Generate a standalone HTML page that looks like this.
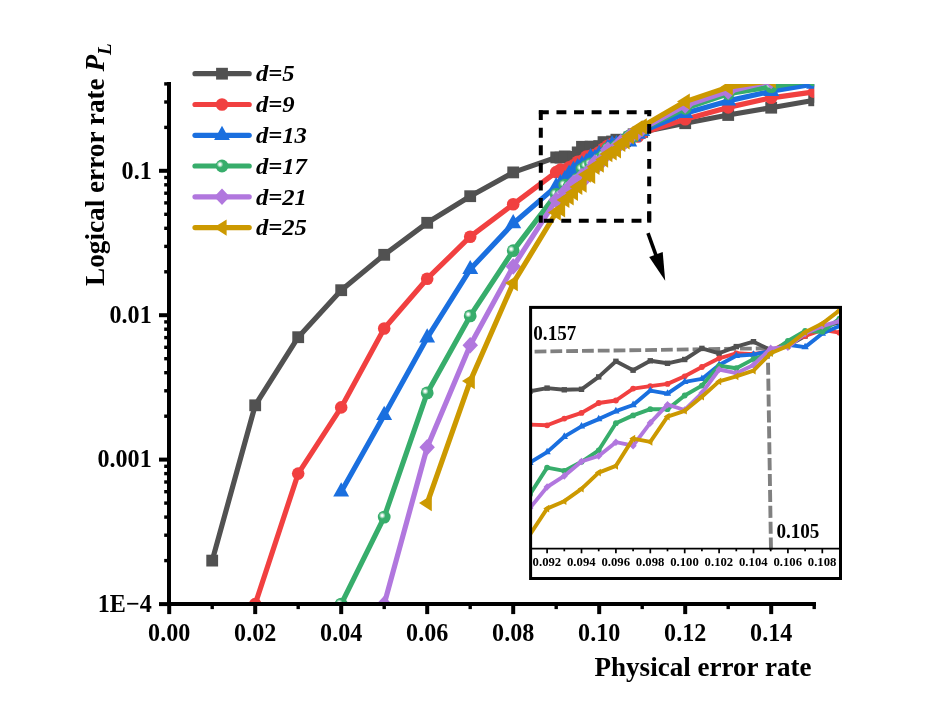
<!DOCTYPE html>
<html><head><meta charset="utf-8"><title>chart</title>
<style>html,body{margin:0;padding:0;background:#fff}svg{display:block;will-change:transform}text{font-family:"Liberation Serif",serif;font-weight:bold;fill:#000}</style></head><body>
<svg width="947" height="725" viewBox="0 0 947 725">
<defs>
<clipPath id="cm"><rect x="169.2" y="83.9" width="645.0" height="520.1"/></clipPath>
<clipPath id="ci"><rect x="530.6" y="307.4" width="309.9" height="243.5"/></clipPath>
<radialGradient id="sph" cx="0.345" cy="0.375" r="0.5" fx="0.345" fy="0.375"><stop offset="0" stop-color="#ffffff"/><stop offset="0.14" stop-color="#f6fcf9"/><stop offset="0.52" stop-color="#37AD6B"/><stop offset="1" stop-color="#37AD6B"/></radialGradient>
</defs>
<rect width="947" height="725" fill="#fff"/>
<g clip-path="url(#cm)">
<path d="M212.2,560.6 L255.2,405.3 L298.2,337.2 L341.2,290.2 L384.2,254.8 L427.2,222.8 L470.2,196.2 L513.2,172.4 L556.2,157.4 L560.5,157.6 L564.8,156.4 L569.1,157.0 L573.4,156.9 L577.7,152.4 L582.0,146.8 L586.3,150.0 L590.6,146.6 L594.9,147.5 L599.2,146.1 L603.5,142.1 L607.8,143.9 L612.1,141.5 L616.4,139.7 L620.7,142.7 L625.0,141.2 L629.3,137.6 L633.6,134.3 L637.9,132.7 L642.2,131.9 L685.2,123.2 L728.2,115.0 L771.2,107.7 L814.2,100.3" fill="none" stroke="#515151" stroke-width="5.2" stroke-linejoin="round" stroke-linecap="round"/>
<rect x="206.3" y="554.7" width="11.8" height="11.8" fill="#515151"/><rect x="249.3" y="399.4" width="11.8" height="11.8" fill="#515151"/><rect x="292.3" y="331.3" width="11.8" height="11.8" fill="#515151"/><rect x="335.3" y="284.3" width="11.8" height="11.8" fill="#515151"/><rect x="378.3" y="248.9" width="11.8" height="11.8" fill="#515151"/><rect x="421.3" y="216.9" width="11.8" height="11.8" fill="#515151"/><rect x="464.3" y="190.3" width="11.8" height="11.8" fill="#515151"/><rect x="507.3" y="166.5" width="11.8" height="11.8" fill="#515151"/><rect x="550.3" y="151.5" width="11.8" height="11.8" fill="#515151"/><rect x="554.6" y="151.7" width="11.8" height="11.8" fill="#515151"/><rect x="558.9" y="150.5" width="11.8" height="11.8" fill="#515151"/><rect x="563.2" y="151.1" width="11.8" height="11.8" fill="#515151"/><rect x="567.5" y="151.0" width="11.8" height="11.8" fill="#515151"/><rect x="571.8" y="146.5" width="11.8" height="11.8" fill="#515151"/><rect x="576.1" y="140.9" width="11.8" height="11.8" fill="#515151"/><rect x="580.4" y="144.1" width="11.8" height="11.8" fill="#515151"/><rect x="584.7" y="140.7" width="11.8" height="11.8" fill="#515151"/><rect x="589.0" y="141.6" width="11.8" height="11.8" fill="#515151"/><rect x="593.3" y="140.2" width="11.8" height="11.8" fill="#515151"/><rect x="597.6" y="136.2" width="11.8" height="11.8" fill="#515151"/><rect x="601.9" y="138.0" width="11.8" height="11.8" fill="#515151"/><rect x="606.2" y="135.6" width="11.8" height="11.8" fill="#515151"/><rect x="610.5" y="133.8" width="11.8" height="11.8" fill="#515151"/><rect x="614.8" y="136.8" width="11.8" height="11.8" fill="#515151"/><rect x="619.1" y="135.3" width="11.8" height="11.8" fill="#515151"/><rect x="623.4" y="131.7" width="11.8" height="11.8" fill="#515151"/><rect x="627.7" y="128.4" width="11.8" height="11.8" fill="#515151"/><rect x="632.0" y="126.8" width="11.8" height="11.8" fill="#515151"/><rect x="636.3" y="126.0" width="11.8" height="11.8" fill="#515151"/><rect x="679.3" y="117.3" width="11.8" height="11.8" fill="#515151"/><rect x="722.3" y="109.1" width="11.8" height="11.8" fill="#515151"/><rect x="765.3" y="101.8" width="11.8" height="11.8" fill="#515151"/><rect x="808.3" y="94.4" width="11.8" height="11.8" fill="#515151"/>
<path d="M255.2,604.1 L298.2,473.6 L341.2,407.4 L384.2,328.5 L427.2,278.7 L470.2,236.7 L513.2,204.3 L556.2,172.1 L560.5,169.6 L564.8,169.8 L569.1,167.4 L573.4,165.4 L577.7,161.8 L582.0,160.9 L586.3,156.6 L590.6,155.7 L594.9,154.9 L599.2,152.2 L603.5,148.8 L607.8,145.7 L612.1,143.9 L616.4,144.2 L620.7,143.0 L625.0,139.9 L629.3,137.6 L633.6,135.4 L637.9,136.5 L642.2,133.0 L685.2,119.3 L728.2,107.4 L771.2,97.8 L814.2,91.8" fill="none" stroke="#F14040" stroke-width="5.2" stroke-linejoin="round" stroke-linecap="round"/>
<circle cx="255.2" cy="604.1" r="6.3" fill="#F14040"/><circle cx="298.2" cy="473.6" r="6.3" fill="#F14040"/><circle cx="341.2" cy="407.4" r="6.3" fill="#F14040"/><circle cx="384.2" cy="328.5" r="6.3" fill="#F14040"/><circle cx="427.2" cy="278.7" r="6.3" fill="#F14040"/><circle cx="470.2" cy="236.7" r="6.3" fill="#F14040"/><circle cx="513.2" cy="204.3" r="6.3" fill="#F14040"/><circle cx="556.2" cy="172.1" r="6.3" fill="#F14040"/><circle cx="560.5" cy="169.6" r="6.3" fill="#F14040"/><circle cx="564.8" cy="169.8" r="6.3" fill="#F14040"/><circle cx="569.1" cy="167.4" r="6.3" fill="#F14040"/><circle cx="573.4" cy="165.4" r="6.3" fill="#F14040"/><circle cx="577.7" cy="161.8" r="6.3" fill="#F14040"/><circle cx="582.0" cy="160.9" r="6.3" fill="#F14040"/><circle cx="586.3" cy="156.6" r="6.3" fill="#F14040"/><circle cx="590.6" cy="155.7" r="6.3" fill="#F14040"/><circle cx="594.9" cy="154.9" r="6.3" fill="#F14040"/><circle cx="599.2" cy="152.2" r="6.3" fill="#F14040"/><circle cx="603.5" cy="148.8" r="6.3" fill="#F14040"/><circle cx="607.8" cy="145.7" r="6.3" fill="#F14040"/><circle cx="612.1" cy="143.9" r="6.3" fill="#F14040"/><circle cx="616.4" cy="144.2" r="6.3" fill="#F14040"/><circle cx="620.7" cy="143.0" r="6.3" fill="#F14040"/><circle cx="625.0" cy="139.9" r="6.3" fill="#F14040"/><circle cx="629.3" cy="137.6" r="6.3" fill="#F14040"/><circle cx="633.6" cy="135.4" r="6.3" fill="#F14040"/><circle cx="637.9" cy="136.5" r="6.3" fill="#F14040"/><circle cx="642.2" cy="133.0" r="6.3" fill="#F14040"/><circle cx="685.2" cy="119.3" r="6.3" fill="#F14040"/><circle cx="728.2" cy="107.4" r="6.3" fill="#F14040"/><circle cx="771.2" cy="97.8" r="6.3" fill="#F14040"/><circle cx="814.2" cy="91.8" r="6.3" fill="#F14040"/>
<path d="M341.2,491.7 L384.2,415.2 L427.2,337.8 L470.2,269.3 L513.2,223.5 L556.2,186.4 L560.5,183.3 L564.8,179.5 L569.1,173.9 L573.4,170.2 L577.7,167.6 L582.0,164.8 L586.3,162.5 L590.6,157.3 L594.9,158.4 L599.2,154.2 L603.5,153.1 L607.8,148.1 L612.1,144.8 L616.4,144.4 L620.7,143.0 L625.0,140.8 L629.3,141.7 L633.6,136.7 L637.9,134.0 L642.2,131.3 L685.2,113.2 L728.2,100.9 L771.2,91.3 L814.2,84.0" fill="none" stroke="#1A6FDF" stroke-width="5.2" stroke-linejoin="round" stroke-linecap="round"/>
<polygon points="341.2,482.2 349.1,496.4 333.2,496.4" fill="#1A6FDF"/><polygon points="384.2,405.8 392.1,420.0 376.2,420.0" fill="#1A6FDF"/><polygon points="427.2,328.3 435.1,342.5 419.2,342.5" fill="#1A6FDF"/><polygon points="470.2,259.9 478.2,274.1 462.3,274.1" fill="#1A6FDF"/><polygon points="513.2,214.0 521.2,228.2 505.3,228.2" fill="#1A6FDF"/><polygon points="556.2,177.0 564.2,191.2 548.2,191.2" fill="#1A6FDF"/><polygon points="560.5,173.9 568.5,188.1 552.5,188.1" fill="#1A6FDF"/><polygon points="564.8,170.0 572.8,184.2 556.8,184.2" fill="#1A6FDF"/><polygon points="569.1,164.5 577.0,178.7 561.1,178.7" fill="#1A6FDF"/><polygon points="573.4,160.8 581.4,175.0 565.4,175.0" fill="#1A6FDF"/><polygon points="577.7,158.1 585.7,172.3 569.8,172.3" fill="#1A6FDF"/><polygon points="582.0,155.3 590.0,169.5 574.0,169.5" fill="#1A6FDF"/><polygon points="586.3,153.1 594.2,167.3 578.3,167.3" fill="#1A6FDF"/><polygon points="590.6,147.9 598.6,162.1 582.6,162.1" fill="#1A6FDF"/><polygon points="594.9,148.9 602.9,163.1 587.0,163.1" fill="#1A6FDF"/><polygon points="599.2,144.7 607.2,158.9 591.2,158.9" fill="#1A6FDF"/><polygon points="603.5,143.6 611.5,157.8 595.5,157.8" fill="#1A6FDF"/><polygon points="607.8,138.6 615.8,152.8 599.8,152.8" fill="#1A6FDF"/><polygon points="612.1,135.3 620.0,149.5 604.1,149.5" fill="#1A6FDF"/><polygon points="616.4,134.9 624.4,149.1 608.4,149.1" fill="#1A6FDF"/><polygon points="620.7,133.6 628.7,147.8 612.8,147.8" fill="#1A6FDF"/><polygon points="625.0,131.3 633.0,145.5 617.0,145.5" fill="#1A6FDF"/><polygon points="629.3,132.2 637.2,146.4 621.3,146.4" fill="#1A6FDF"/><polygon points="633.6,127.3 641.5,141.5 625.6,141.5" fill="#1A6FDF"/><polygon points="637.9,124.6 645.9,138.8 629.9,138.8" fill="#1A6FDF"/><polygon points="642.2,121.8 650.2,136.0 634.2,136.0" fill="#1A6FDF"/><polygon points="685.2,103.7 693.2,117.9 677.2,117.9" fill="#1A6FDF"/><polygon points="728.2,91.4 736.2,105.6 720.2,105.6" fill="#1A6FDF"/><polygon points="771.2,81.8 779.2,96.0 763.2,96.0" fill="#1A6FDF"/><polygon points="814.2,74.5 822.2,88.7 806.2,88.7" fill="#1A6FDF"/>
<path d="M341.2,604.1 L384.2,517.1 L427.2,392.9 L470.2,315.9 L513.2,250.7 L556.2,194.3 L560.5,194.8 L564.8,185.1 L569.1,186.3 L573.4,183.0 L577.7,178.8 L582.0,169.1 L586.3,166.3 L590.6,164.0 L594.9,164.0 L599.2,159.1 L603.5,155.5 L607.8,148.4 L612.1,149.3 L616.4,146.0 L620.7,143.9 L625.0,139.4 L629.3,135.8 L633.6,136.1 L637.9,131.4 L642.2,129.0 L685.2,108.3 L728.2,93.8 L771.2,86.6 L814.2,79.9" fill="none" stroke="#37AD6B" stroke-width="5.2" stroke-linejoin="round" stroke-linecap="round"/>
<circle cx="341.2" cy="604.1" r="6.4" fill="url(#sph)"/><circle cx="384.2" cy="517.1" r="6.4" fill="url(#sph)"/><circle cx="427.2" cy="392.9" r="6.4" fill="url(#sph)"/><circle cx="470.2" cy="315.9" r="6.4" fill="url(#sph)"/><circle cx="513.2" cy="250.7" r="6.4" fill="url(#sph)"/><circle cx="556.2" cy="194.3" r="6.4" fill="url(#sph)"/><circle cx="560.5" cy="194.8" r="6.4" fill="url(#sph)"/><circle cx="564.8" cy="185.1" r="6.4" fill="url(#sph)"/><circle cx="569.1" cy="186.3" r="6.4" fill="url(#sph)"/><circle cx="573.4" cy="183.0" r="6.4" fill="url(#sph)"/><circle cx="577.7" cy="178.8" r="6.4" fill="url(#sph)"/><circle cx="582.0" cy="169.1" r="6.4" fill="url(#sph)"/><circle cx="586.3" cy="166.3" r="6.4" fill="url(#sph)"/><circle cx="590.6" cy="164.0" r="6.4" fill="url(#sph)"/><circle cx="594.9" cy="164.0" r="6.4" fill="url(#sph)"/><circle cx="599.2" cy="159.1" r="6.4" fill="url(#sph)"/><circle cx="603.5" cy="155.5" r="6.4" fill="url(#sph)"/><circle cx="607.8" cy="148.4" r="6.4" fill="url(#sph)"/><circle cx="612.1" cy="149.3" r="6.4" fill="url(#sph)"/><circle cx="616.4" cy="146.0" r="6.4" fill="url(#sph)"/><circle cx="620.7" cy="143.9" r="6.4" fill="url(#sph)"/><circle cx="625.0" cy="139.4" r="6.4" fill="url(#sph)"/><circle cx="629.3" cy="135.8" r="6.4" fill="url(#sph)"/><circle cx="633.6" cy="136.1" r="6.4" fill="url(#sph)"/><circle cx="637.9" cy="131.4" r="6.4" fill="url(#sph)"/><circle cx="642.2" cy="129.0" r="6.4" fill="url(#sph)"/><circle cx="685.2" cy="108.3" r="6.4" fill="url(#sph)"/><circle cx="728.2" cy="93.8" r="6.4" fill="url(#sph)"/><circle cx="771.2" cy="86.6" r="6.4" fill="url(#sph)"/><circle cx="814.2" cy="79.9" r="6.4" fill="url(#sph)"/>
<path d="M384.2,604.1 L427.2,447.2 L470.2,345.2 L513.2,266.5 L556.2,199.9 L560.5,199.7 L564.8,192.1 L569.1,188.1 L573.4,182.9 L577.7,180.9 L582.0,175.9 L586.3,177.2 L590.6,169.0 L594.9,162.4 L599.2,164.3 L603.5,158.2 L607.8,149.7 L612.1,151.1 L616.4,148.1 L620.7,142.1 L625.0,141.7 L629.3,136.7 L633.6,134.0 L637.9,132.3 L642.2,128.6 L685.2,105.5 L728.2,91.4 L771.2,81.0 L814.2,76.0" fill="none" stroke="#B177DE" stroke-width="5.2" stroke-linejoin="round" stroke-linecap="round"/>
<polygon points="384.2,595.8 391.9,604.1 384.2,612.3 376.4,604.1" fill="#B177DE"/><polygon points="427.2,439.0 434.9,447.2 427.2,455.5 419.4,447.2" fill="#B177DE"/><polygon points="470.2,337.0 478.0,345.2 470.2,353.5 462.5,345.2" fill="#B177DE"/><polygon points="513.2,258.3 521.0,266.5 513.2,274.8 505.5,266.5" fill="#B177DE"/><polygon points="556.2,191.7 564.0,199.9 556.2,208.2 548.5,199.9" fill="#B177DE"/><polygon points="560.5,191.4 568.2,199.7 560.5,207.9 552.8,199.7" fill="#B177DE"/><polygon points="564.8,183.8 572.5,192.1 564.8,200.3 557.0,192.1" fill="#B177DE"/><polygon points="569.1,179.8 576.8,188.1 569.1,196.3 561.3,188.1" fill="#B177DE"/><polygon points="573.4,174.6 581.1,182.9 573.4,191.1 565.6,182.9" fill="#B177DE"/><polygon points="577.7,172.7 585.5,180.9 577.7,189.2 570.0,180.9" fill="#B177DE"/><polygon points="582.0,167.7 589.8,175.9 582.0,184.2 574.2,175.9" fill="#B177DE"/><polygon points="586.3,168.9 594.0,177.2 586.3,185.4 578.5,177.2" fill="#B177DE"/><polygon points="590.6,160.7 598.4,169.0 590.6,177.2 582.9,169.0" fill="#B177DE"/><polygon points="594.9,154.2 602.7,162.4 594.9,170.7 587.2,162.4" fill="#B177DE"/><polygon points="599.2,156.1 607.0,164.3 599.2,172.6 591.5,164.3" fill="#B177DE"/><polygon points="603.5,150.0 611.2,158.2 603.5,166.5 595.8,158.2" fill="#B177DE"/><polygon points="607.8,141.5 615.5,149.7 607.8,158.0 600.0,149.7" fill="#B177DE"/><polygon points="612.1,142.8 619.8,151.1 612.1,159.3 604.3,151.1" fill="#B177DE"/><polygon points="616.4,139.9 624.1,148.1 616.4,156.4 608.6,148.1" fill="#B177DE"/><polygon points="620.7,133.9 628.5,142.1 620.7,150.4 613.0,142.1" fill="#B177DE"/><polygon points="625.0,133.4 632.8,141.7 625.0,149.9 617.2,141.7" fill="#B177DE"/><polygon points="629.3,128.5 637.0,136.7 629.3,145.0 621.5,136.7" fill="#B177DE"/><polygon points="633.6,125.8 641.3,134.0 633.6,142.3 625.8,134.0" fill="#B177DE"/><polygon points="637.9,124.0 645.6,132.3 637.9,140.5 630.1,132.3" fill="#B177DE"/><polygon points="642.2,120.4 650.0,128.6 642.2,136.9 634.5,128.6" fill="#B177DE"/><polygon points="685.2,97.2 693.0,105.5 685.2,113.8 677.5,105.5" fill="#B177DE"/><polygon points="728.2,83.2 736.0,91.4 728.2,99.7 720.5,91.4" fill="#B177DE"/><polygon points="771.2,72.8 779.0,81.0 771.2,89.2 763.5,81.0" fill="#B177DE"/><polygon points="814.2,67.8 822.0,76.0 814.2,84.2 806.5,76.0" fill="#B177DE"/>
<path d="M427.2,503.1 L470.2,381.1 L513.2,283.1 L556.2,212.5 L560.5,209.3 L564.8,199.9 L569.1,197.2 L573.4,192.7 L577.7,186.9 L582.0,184.5 L586.3,174.6 L590.6,175.8 L594.9,166.7 L599.2,164.6 L603.5,159.6 L607.8,154.0 L612.1,152.2 L616.4,150.2 L620.7,143.9 L625.0,141.2 L629.3,136.3 L633.6,133.2 L637.9,128.4 L642.2,126.4 L685.2,101.6 L728.2,87.2 L771.2,80.4 L814.2,75.0" fill="none" stroke="#CC9900" stroke-width="5.2" stroke-linejoin="round" stroke-linecap="round"/>
<polygon points="419.0,503.1 431.8,494.9 431.8,511.3" fill="#CC9900"/><polygon points="462.0,381.1 474.8,372.9 474.8,389.3" fill="#CC9900"/><polygon points="505.0,283.1 517.8,274.9 517.8,291.3" fill="#CC9900"/><polygon points="548.0,212.5 560.8,204.3 560.8,220.7" fill="#CC9900"/><polygon points="552.3,209.3 565.1,201.1 565.1,217.5" fill="#CC9900"/><polygon points="556.6,199.9 569.4,191.7 569.4,208.1" fill="#CC9900"/><polygon points="560.9,197.2 573.7,189.0 573.7,205.4" fill="#CC9900"/><polygon points="565.2,192.7 578.0,184.5 578.0,200.9" fill="#CC9900"/><polygon points="569.5,186.9 582.3,178.7 582.3,195.1" fill="#CC9900"/><polygon points="573.8,184.5 586.6,176.3 586.6,192.7" fill="#CC9900"/><polygon points="578.1,174.6 590.9,166.4 590.9,182.8" fill="#CC9900"/><polygon points="582.4,175.8 595.2,167.6 595.2,184.0" fill="#CC9900"/><polygon points="586.7,166.7 599.5,158.5 599.5,174.9" fill="#CC9900"/><polygon points="591.0,164.6 603.8,156.4 603.8,172.8" fill="#CC9900"/><polygon points="595.3,159.6 608.1,151.4 608.1,167.8" fill="#CC9900"/><polygon points="599.6,154.0 612.4,145.8 612.4,162.2" fill="#CC9900"/><polygon points="603.9,152.2 616.7,144.0 616.7,160.4" fill="#CC9900"/><polygon points="608.2,150.2 621.0,142.0 621.0,158.4" fill="#CC9900"/><polygon points="612.5,143.9 625.3,135.7 625.3,152.1" fill="#CC9900"/><polygon points="616.8,141.2 629.6,133.0 629.6,149.4" fill="#CC9900"/><polygon points="621.1,136.3 633.9,128.1 633.9,144.5" fill="#CC9900"/><polygon points="625.4,133.2 638.2,125.0 638.2,141.4" fill="#CC9900"/><polygon points="629.7,128.4 642.5,120.2 642.5,136.6" fill="#CC9900"/><polygon points="634.0,126.4 646.8,118.2 646.8,134.6" fill="#CC9900"/><polygon points="677.0,101.6 689.8,93.4 689.8,109.8" fill="#CC9900"/><polygon points="720.0,87.2 732.8,79.0 732.8,95.4" fill="#CC9900"/><polygon points="763.0,80.4 775.8,72.2 775.8,88.6" fill="#CC9900"/><polygon points="806.0,75.0 818.8,66.8 818.8,83.2" fill="#CC9900"/>
</g>
<g stroke="#000" stroke-width="4.0" fill="none">
<line x1="169" y1="82.1" x2="169" y2="606.1"/>
<line x1="167.0" y1="604.1" x2="816.0" y2="604.1"/>
</g>
<g stroke="#000" stroke-width="3.4">
<line x1="169.2" y1="604.1" x2="169.2" y2="614.1" stroke-width="4.0"/>
<line x1="212.2" y1="604.1" x2="212.2" y2="609.1" stroke-width="3.4"/>
<line x1="255.2" y1="604.1" x2="255.2" y2="614.1" stroke-width="4.0"/>
<line x1="298.2" y1="604.1" x2="298.2" y2="609.1" stroke-width="3.4"/>
<line x1="341.2" y1="604.1" x2="341.2" y2="614.1" stroke-width="4.0"/>
<line x1="384.2" y1="604.1" x2="384.2" y2="609.1" stroke-width="3.4"/>
<line x1="427.2" y1="604.1" x2="427.2" y2="614.1" stroke-width="4.0"/>
<line x1="470.2" y1="604.1" x2="470.2" y2="609.1" stroke-width="3.4"/>
<line x1="513.2" y1="604.1" x2="513.2" y2="614.1" stroke-width="4.0"/>
<line x1="556.2" y1="604.1" x2="556.2" y2="609.1" stroke-width="3.4"/>
<line x1="599.2" y1="604.1" x2="599.2" y2="614.1" stroke-width="4.0"/>
<line x1="642.2" y1="604.1" x2="642.2" y2="609.1" stroke-width="3.4"/>
<line x1="685.2" y1="604.1" x2="685.2" y2="614.1" stroke-width="4.0"/>
<line x1="728.2" y1="604.1" x2="728.2" y2="609.1" stroke-width="3.4"/>
<line x1="771.2" y1="604.1" x2="771.2" y2="614.1" stroke-width="4.0"/>
<line x1="814.2" y1="604.1" x2="814.2" y2="609.1" stroke-width="3.4"/>
<line x1="169" y1="604.1" x2="159.0" y2="604.1" stroke-width="4.0"/>
<line x1="169" y1="560.6" x2="164.2" y2="560.6" stroke-width="3.4"/>
<line x1="169" y1="535.2" x2="164.2" y2="535.2" stroke-width="3.4"/>
<line x1="169" y1="517.1" x2="164.2" y2="517.1" stroke-width="3.4"/>
<line x1="169" y1="503.1" x2="164.2" y2="503.1" stroke-width="3.4"/>
<line x1="169" y1="491.7" x2="164.2" y2="491.7" stroke-width="3.4"/>
<line x1="169" y1="482.0" x2="164.2" y2="482.0" stroke-width="3.4"/>
<line x1="169" y1="473.6" x2="164.2" y2="473.6" stroke-width="3.4"/>
<line x1="169" y1="466.3" x2="164.2" y2="466.3" stroke-width="3.4"/>
<line x1="169" y1="459.6" x2="159.0" y2="459.6" stroke-width="4.0"/>
<line x1="169" y1="416.2" x2="164.2" y2="416.2" stroke-width="3.4"/>
<line x1="169" y1="390.8" x2="164.2" y2="390.8" stroke-width="3.4"/>
<line x1="169" y1="372.7" x2="164.2" y2="372.7" stroke-width="3.4"/>
<line x1="169" y1="358.7" x2="164.2" y2="358.7" stroke-width="3.4"/>
<line x1="169" y1="347.3" x2="164.2" y2="347.3" stroke-width="3.4"/>
<line x1="169" y1="337.6" x2="164.2" y2="337.6" stroke-width="3.4"/>
<line x1="169" y1="329.2" x2="164.2" y2="329.2" stroke-width="3.4"/>
<line x1="169" y1="321.9" x2="164.2" y2="321.9" stroke-width="3.4"/>
<line x1="169" y1="315.2" x2="159.0" y2="315.2" stroke-width="4.0"/>
<line x1="169" y1="271.8" x2="164.2" y2="271.8" stroke-width="3.4"/>
<line x1="169" y1="246.4" x2="164.2" y2="246.4" stroke-width="3.4"/>
<line x1="169" y1="228.3" x2="164.2" y2="228.3" stroke-width="3.4"/>
<line x1="169" y1="214.3" x2="164.2" y2="214.3" stroke-width="3.4"/>
<line x1="169" y1="202.9" x2="164.2" y2="202.9" stroke-width="3.4"/>
<line x1="169" y1="193.2" x2="164.2" y2="193.2" stroke-width="3.4"/>
<line x1="169" y1="184.8" x2="164.2" y2="184.8" stroke-width="3.4"/>
<line x1="169" y1="177.5" x2="164.2" y2="177.5" stroke-width="3.4"/>
<line x1="169" y1="170.8" x2="159.0" y2="170.8" stroke-width="4.0"/>
<line x1="169" y1="127.4" x2="164.2" y2="127.4" stroke-width="3.4"/>
<line x1="169" y1="102.0" x2="164.2" y2="102.0" stroke-width="3.4"/>
<line x1="169" y1="83.9" x2="164.2" y2="83.9" stroke-width="3.4"/>
</g>
<text transform="translate(169.2,640.6) scale(0.945,1)" font-size="25.5" text-anchor="middle">0.00</text>
<text transform="translate(255.2,640.6) scale(0.945,1)" font-size="25.5" text-anchor="middle">0.02</text>
<text transform="translate(341.2,640.6) scale(0.945,1)" font-size="25.5" text-anchor="middle">0.04</text>
<text transform="translate(427.2,640.6) scale(0.945,1)" font-size="25.5" text-anchor="middle">0.06</text>
<text transform="translate(513.2,640.6) scale(0.945,1)" font-size="25.5" text-anchor="middle">0.08</text>
<text transform="translate(599.2,640.6) scale(0.945,1)" font-size="25.5" text-anchor="middle">0.10</text>
<text transform="translate(685.2,640.6) scale(0.945,1)" font-size="25.5" text-anchor="middle">0.12</text>
<text transform="translate(771.2,640.6) scale(0.945,1)" font-size="25.5" text-anchor="middle">0.14</text>
<text transform="translate(151.7,178.7) scale(0.945,1)" font-size="25.5" text-anchor="end">0.1</text>
<text transform="translate(151.7,323.1) scale(0.945,1)" font-size="25.5" text-anchor="end">0.01</text>
<text transform="translate(151.7,467.4) scale(0.945,1)" font-size="25.5" text-anchor="end">0.001</text>
<text transform="translate(151.7,611.9) scale(0.945,1)" font-size="25.5" text-anchor="end">1E−4</text>
<text transform="translate(703.0,675.9) scale(0.985,1)" font-size="27.5" text-anchor="middle">Physical error rate</text>
<text transform="translate(104.2,286.0) rotate(-90) scale(1.0244,1)" font-size="26.6" text-anchor="start">Logical error rate <tspan font-style="italic">P</tspan><tspan font-style="italic" font-size="18.5" dy="7">L</tspan></text>
<line x1="195" y1="73.7" x2="249.2" y2="73.7" stroke="#515151" stroke-width="5.2" stroke-linecap="round"/>
<rect x="216.1" y="67.8" width="11.8" height="11.8" fill="#515151"/>
<text transform="translate(255.9,81.4) scale(1.04,1)" font-size="23.7" text-anchor="start" font-style="italic">d=5</text>
<line x1="195" y1="104.5" x2="249.2" y2="104.5" stroke="#F14040" stroke-width="5.2" stroke-linecap="round"/>
<circle cx="222.0" cy="104.5" r="6.3" fill="#F14040"/>
<text transform="translate(255.9,112.2) scale(1.04,1)" font-size="23.7" text-anchor="start" font-style="italic">d=9</text>
<line x1="195" y1="135.3" x2="249.2" y2="135.3" stroke="#1A6FDF" stroke-width="5.2" stroke-linecap="round"/>
<polygon points="222.0,125.8 229.9,140.0 214.1,140.0" fill="#1A6FDF"/>
<text transform="translate(255.9,143.0) scale(1.04,1)" font-size="23.7" text-anchor="start" font-style="italic">d=13</text>
<line x1="195" y1="166.0" x2="249.2" y2="166.0" stroke="#37AD6B" stroke-width="5.2" stroke-linecap="round"/>
<circle cx="222.0" cy="166.0" r="6.4" fill="url(#sph)"/>
<text transform="translate(255.9,173.7) scale(1.04,1)" font-size="23.7" text-anchor="start" font-style="italic">d=17</text>
<line x1="195" y1="196.8" x2="249.2" y2="196.8" stroke="#B177DE" stroke-width="5.2" stroke-linecap="round"/>
<polygon points="222.0,188.6 229.8,196.8 222.0,205.1 214.2,196.8" fill="#B177DE"/>
<text transform="translate(255.9,204.5) scale(1.04,1)" font-size="23.7" text-anchor="start" font-style="italic">d=21</text>
<line x1="195" y1="227.6" x2="249.2" y2="227.6" stroke="#CC9900" stroke-width="5.2" stroke-linecap="round"/>
<polygon points="213.8,227.6 226.6,219.4 226.6,235.8" fill="#CC9900"/>
<text transform="translate(255.9,235.3) scale(1.04,1)" font-size="23.7" text-anchor="start" font-style="italic">d=25</text>
<g stroke="#000" stroke-width="4" fill="none" stroke-dasharray="9.9 7.67">
<line x1="538.9" y1="112.2" x2="651.2" y2="112.2"/>
<line x1="540.8" y1="110.2" x2="540.8" y2="222.7"/>
<line x1="649.2" y1="110.2" x2="649.2" y2="222.7" stroke-dasharray="9.9 7.6" stroke-dashoffset="3.8"/>
<line x1="543.7" y1="220.7" x2="647" y2="220.7"/>
<line x1="649.2" y1="211.4" x2="649.2" y2="222.7" stroke-dasharray="none"/>
</g>
<line x1="648.0" y1="233.2" x2="657.5" y2="259.5" stroke="#000" stroke-width="3.6"/>
<polygon points="665.2,280.8 649.2,256.9 662.7,252.1" fill="#000"/>
<rect x="530.6" y="307.4" width="309.9" height="271.1" fill="#fff" stroke="none"/>
<g clip-path="url(#ci)">
<path d="M534.6,351.6 L768.5,348.3" stroke="#808080" stroke-width="3.8" fill="none" stroke-dasharray="11.8 4.0"/>
<path d="M767.8,346.8 L771.0,550.9" stroke="#808080" stroke-width="3.9" fill="none" stroke-dasharray="12.1 3.8"/>
<path d="M529.9,391.3 L547.1,388.1 L564.3,389.8 L581.5,389.3 L598.7,376.9 L615.9,361.3 L633.1,370.2 L650.3,360.8 L667.5,363.3 L684.7,359.5 L701.9,348.4 L719.1,353.3 L736.3,346.6 L753.5,341.7 L770.7,350.1 L787.9,345.9 L805.1,336.0 L822.3,326.8 L839.5,322.3" fill="none" stroke="#515151" stroke-width="3.9" stroke-linejoin="round"/>
<rect x="527.2" y="388.6" width="5.4" height="5.4" fill="#515151"/><rect x="544.4" y="385.4" width="5.4" height="5.4" fill="#515151"/><rect x="561.6" y="387.1" width="5.4" height="5.4" fill="#515151"/><rect x="578.8" y="386.6" width="5.4" height="5.4" fill="#515151"/><rect x="596.0" y="374.2" width="5.4" height="5.4" fill="#515151"/><rect x="613.2" y="358.6" width="5.4" height="5.4" fill="#515151"/><rect x="630.4" y="367.5" width="5.4" height="5.4" fill="#515151"/><rect x="647.6" y="358.1" width="5.4" height="5.4" fill="#515151"/><rect x="664.8" y="360.6" width="5.4" height="5.4" fill="#515151"/><rect x="682.0" y="356.8" width="5.4" height="5.4" fill="#515151"/><rect x="699.2" y="345.7" width="5.4" height="5.4" fill="#515151"/><rect x="716.4" y="350.6" width="5.4" height="5.4" fill="#515151"/><rect x="733.6" y="343.9" width="5.4" height="5.4" fill="#515151"/><rect x="750.8" y="339.0" width="5.4" height="5.4" fill="#515151"/><rect x="768.0" y="347.4" width="5.4" height="5.4" fill="#515151"/><rect x="785.2" y="343.2" width="5.4" height="5.4" fill="#515151"/><rect x="802.4" y="333.3" width="5.4" height="5.4" fill="#515151"/><rect x="819.6" y="324.1" width="5.4" height="5.4" fill="#515151"/><rect x="836.8" y="319.6" width="5.4" height="5.4" fill="#515151"/>
<path d="M529.9,424.6 L547.1,425.3 L564.3,418.6 L581.5,412.9 L598.7,403.0 L615.9,400.5 L633.1,388.6 L650.3,386.1 L667.5,383.9 L684.7,376.3 L701.9,367.0 L719.1,358.3 L736.3,353.3 L753.5,354.1 L770.7,350.9 L787.9,342.2 L805.1,336.0 L822.3,329.8 L839.5,332.7" fill="none" stroke="#F14040" stroke-width="3.9" stroke-linejoin="round"/>
<circle cx="529.9" cy="424.6" r="2.9" fill="#F14040"/><circle cx="547.1" cy="425.3" r="2.9" fill="#F14040"/><circle cx="564.3" cy="418.6" r="2.9" fill="#F14040"/><circle cx="581.5" cy="412.9" r="2.9" fill="#F14040"/><circle cx="598.7" cy="403.0" r="2.9" fill="#F14040"/><circle cx="615.9" cy="400.5" r="2.9" fill="#F14040"/><circle cx="633.1" cy="388.6" r="2.9" fill="#F14040"/><circle cx="650.3" cy="386.1" r="2.9" fill="#F14040"/><circle cx="667.5" cy="383.9" r="2.9" fill="#F14040"/><circle cx="684.7" cy="376.3" r="2.9" fill="#F14040"/><circle cx="701.9" cy="367.0" r="2.9" fill="#F14040"/><circle cx="719.1" cy="358.3" r="2.9" fill="#F14040"/><circle cx="736.3" cy="353.3" r="2.9" fill="#F14040"/><circle cx="753.5" cy="354.1" r="2.9" fill="#F14040"/><circle cx="770.7" cy="350.9" r="2.9" fill="#F14040"/><circle cx="787.9" cy="342.2" r="2.9" fill="#F14040"/><circle cx="805.1" cy="336.0" r="2.9" fill="#F14040"/><circle cx="822.3" cy="329.8" r="2.9" fill="#F14040"/><circle cx="839.5" cy="332.7" r="2.9" fill="#F14040"/>
<path d="M529.9,462.7 L547.1,452.1 L564.3,436.7 L581.5,426.4 L598.7,419.1 L615.9,411.2 L633.1,405.0 L650.3,390.6 L667.5,393.6 L684.7,381.9 L701.9,378.9 L719.1,365.0 L736.3,355.8 L753.5,354.6 L770.7,350.9 L787.9,344.7 L805.1,347.1 L822.3,333.5 L839.5,326.0" fill="none" stroke="#1A6FDF" stroke-width="3.9" stroke-linejoin="round"/>
<polygon points="529.9,458.3 533.6,464.9 526.2,464.9" fill="#1A6FDF"/><polygon points="547.1,447.7 550.8,454.3 543.4,454.3" fill="#1A6FDF"/><polygon points="564.3,432.3 568.0,438.9 560.6,438.9" fill="#1A6FDF"/><polygon points="581.5,422.0 585.2,428.6 577.8,428.6" fill="#1A6FDF"/><polygon points="598.7,414.7 602.4,421.3 595.0,421.3" fill="#1A6FDF"/><polygon points="615.9,406.8 619.6,413.4 612.2,413.4" fill="#1A6FDF"/><polygon points="633.1,400.6 636.8,407.2 629.4,407.2" fill="#1A6FDF"/><polygon points="650.3,386.2 654.0,392.8 646.6,392.8" fill="#1A6FDF"/><polygon points="667.5,389.2 671.2,395.8 663.8,395.8" fill="#1A6FDF"/><polygon points="684.7,377.5 688.4,384.1 681.0,384.1" fill="#1A6FDF"/><polygon points="701.9,374.5 705.6,381.1 698.2,381.1" fill="#1A6FDF"/><polygon points="719.1,360.6 722.8,367.2 715.4,367.2" fill="#1A6FDF"/><polygon points="736.3,351.4 740.0,358.0 732.6,358.0" fill="#1A6FDF"/><polygon points="753.5,350.2 757.2,356.8 749.8,356.8" fill="#1A6FDF"/><polygon points="770.7,346.5 774.4,353.1 767.0,353.1" fill="#1A6FDF"/><polygon points="787.9,340.3 791.6,346.9 784.2,346.9" fill="#1A6FDF"/><polygon points="805.1,342.7 808.8,349.3 801.4,349.3" fill="#1A6FDF"/><polygon points="822.3,329.1 826.0,335.7 818.6,335.7" fill="#1A6FDF"/><polygon points="839.5,321.6 843.2,328.2 835.8,328.2" fill="#1A6FDF"/>
<path d="M529.9,494.5 L547.1,467.6 L564.3,470.9 L581.5,461.8 L598.7,450.3 L615.9,423.2 L633.1,415.4 L650.3,409.2 L667.5,409.2 L684.7,395.5 L701.9,385.6 L719.1,365.8 L736.3,368.2 L753.5,359.1 L770.7,353.3 L787.9,340.9 L805.1,331.0 L822.3,331.7 L839.5,318.6" fill="none" stroke="#37AD6B" stroke-width="3.9" stroke-linejoin="round"/>
<circle cx="529.9" cy="494.5" r="2.9" fill="#37AD6B"/><circle cx="547.1" cy="467.6" r="2.9" fill="#37AD6B"/><circle cx="564.3" cy="470.9" r="2.9" fill="#37AD6B"/><circle cx="581.5" cy="461.8" r="2.9" fill="#37AD6B"/><circle cx="598.7" cy="450.3" r="2.9" fill="#37AD6B"/><circle cx="615.9" cy="423.2" r="2.9" fill="#37AD6B"/><circle cx="633.1" cy="415.4" r="2.9" fill="#37AD6B"/><circle cx="650.3" cy="409.2" r="2.9" fill="#37AD6B"/><circle cx="667.5" cy="409.2" r="2.9" fill="#37AD6B"/><circle cx="684.7" cy="395.5" r="2.9" fill="#37AD6B"/><circle cx="701.9" cy="385.6" r="2.9" fill="#37AD6B"/><circle cx="719.1" cy="365.8" r="2.9" fill="#37AD6B"/><circle cx="736.3" cy="368.2" r="2.9" fill="#37AD6B"/><circle cx="753.5" cy="359.1" r="2.9" fill="#37AD6B"/><circle cx="770.7" cy="353.3" r="2.9" fill="#37AD6B"/><circle cx="787.9" cy="340.9" r="2.9" fill="#37AD6B"/><circle cx="805.1" cy="331.0" r="2.9" fill="#37AD6B"/><circle cx="822.3" cy="331.7" r="2.9" fill="#37AD6B"/><circle cx="839.5" cy="318.6" r="2.9" fill="#37AD6B"/>
<path d="M529.9,508.1 L547.1,487.0 L564.3,475.9 L581.5,461.5 L598.7,456.0 L615.9,442.2 L633.1,445.7 L650.3,422.9 L667.5,404.7 L684.7,410.0 L701.9,393.1 L719.1,369.5 L736.3,373.2 L753.5,365.0 L770.7,348.4 L787.9,347.1 L805.1,333.5 L822.3,326.0 L839.5,321.1" fill="none" stroke="#B177DE" stroke-width="3.9" stroke-linejoin="round"/>
<polygon points="529.9,504.3 533.5,508.1 529.9,511.9 526.3,508.1" fill="#B177DE"/><polygon points="547.1,483.2 550.7,487.0 547.1,490.8 543.5,487.0" fill="#B177DE"/><polygon points="564.3,472.1 567.9,475.9 564.3,479.7 560.7,475.9" fill="#B177DE"/><polygon points="581.5,457.7 585.1,461.5 581.5,465.3 577.9,461.5" fill="#B177DE"/><polygon points="598.7,452.2 602.3,456.0 598.7,459.8 595.1,456.0" fill="#B177DE"/><polygon points="615.9,438.4 619.5,442.2 615.9,446.0 612.3,442.2" fill="#B177DE"/><polygon points="633.1,441.9 636.7,445.7 633.1,449.5 629.5,445.7" fill="#B177DE"/><polygon points="650.3,419.1 653.9,422.9 650.3,426.7 646.7,422.9" fill="#B177DE"/><polygon points="667.5,400.9 671.1,404.7 667.5,408.5 663.9,404.7" fill="#B177DE"/><polygon points="684.7,406.2 688.3,410.0 684.7,413.8 681.1,410.0" fill="#B177DE"/><polygon points="701.9,389.3 705.5,393.1 701.9,396.9 698.3,393.1" fill="#B177DE"/><polygon points="719.1,365.7 722.7,369.5 719.1,373.3 715.5,369.5" fill="#B177DE"/><polygon points="736.3,369.4 739.9,373.2 736.3,377.0 732.7,373.2" fill="#B177DE"/><polygon points="753.5,361.2 757.1,365.0 753.5,368.8 749.9,365.0" fill="#B177DE"/><polygon points="770.7,344.6 774.3,348.4 770.7,352.2 767.1,348.4" fill="#B177DE"/><polygon points="787.9,343.3 791.5,347.1 787.9,350.9 784.3,347.1" fill="#B177DE"/><polygon points="805.1,329.7 808.7,333.5 805.1,337.3 801.5,333.5" fill="#B177DE"/><polygon points="822.3,322.2 825.9,326.0 822.3,329.8 818.7,326.0" fill="#B177DE"/><polygon points="839.5,317.3 843.1,321.1 839.5,324.9 835.9,321.1" fill="#B177DE"/>
<path d="M529.9,534.7 L547.1,508.6 L564.3,501.2 L581.5,488.8 L598.7,472.6 L615.9,465.9 L633.1,438.6 L650.3,441.9 L667.5,416.6 L684.7,410.8 L701.9,396.8 L719.1,381.4 L736.3,376.4 L753.5,370.7 L770.7,353.3 L787.9,345.9 L805.1,332.2 L822.3,323.6 L839.5,310.4" fill="none" stroke="#CC9900" stroke-width="3.9" stroke-linejoin="round"/>
<polygon points="526.1,534.7 532.0,530.9 532.0,538.5" fill="#CC9900"/><polygon points="543.3,508.6 549.2,504.8 549.2,512.4" fill="#CC9900"/><polygon points="560.5,501.2 566.4,497.4 566.4,505.0" fill="#CC9900"/><polygon points="577.7,488.8 583.6,485.0 583.6,492.6" fill="#CC9900"/><polygon points="594.9,472.6 600.8,468.8 600.8,476.4" fill="#CC9900"/><polygon points="612.1,465.9 618.0,462.1 618.0,469.7" fill="#CC9900"/><polygon points="629.3,438.6 635.2,434.8 635.2,442.4" fill="#CC9900"/><polygon points="646.5,441.9 652.4,438.1 652.4,445.7" fill="#CC9900"/><polygon points="663.7,416.6 669.6,412.8 669.6,420.4" fill="#CC9900"/><polygon points="680.9,410.8 686.8,407.0 686.8,414.6" fill="#CC9900"/><polygon points="698.1,396.8 704.0,393.0 704.0,400.6" fill="#CC9900"/><polygon points="715.3,381.4 721.2,377.6 721.2,385.2" fill="#CC9900"/><polygon points="732.5,376.4 738.4,372.6 738.4,380.2" fill="#CC9900"/><polygon points="749.7,370.7 755.6,366.9 755.6,374.5" fill="#CC9900"/><polygon points="766.9,353.3 772.8,349.5 772.8,357.1" fill="#CC9900"/><polygon points="784.1,345.9 790.0,342.1 790.0,349.7" fill="#CC9900"/><polygon points="801.3,332.2 807.2,328.4 807.2,336.0" fill="#CC9900"/><polygon points="818.5,323.6 824.4,319.8 824.4,327.4" fill="#CC9900"/><polygon points="835.7,310.4 841.6,306.6 841.6,314.2" fill="#CC9900"/>
</g>
<rect x="530.6" y="307.4" width="309.9" height="271.1" fill="none" stroke="#000" stroke-width="3.0"/>
<line x1="530.6" y1="548.7" x2="840.5" y2="548.7" stroke="#000" stroke-width="1.7"/>
<g stroke="#000" stroke-width="1.7">
<line x1="547.1" y1="548.7" x2="547.1" y2="553.3"/>
<line x1="564.3" y1="548.7" x2="564.3" y2="551.3"/>
<line x1="581.5" y1="548.7" x2="581.5" y2="553.3"/>
<line x1="598.7" y1="548.7" x2="598.7" y2="551.3"/>
<line x1="615.9" y1="548.7" x2="615.9" y2="553.3"/>
<line x1="633.1" y1="548.7" x2="633.1" y2="551.3"/>
<line x1="650.3" y1="548.7" x2="650.3" y2="553.3"/>
<line x1="667.5" y1="548.7" x2="667.5" y2="551.3"/>
<line x1="684.7" y1="548.7" x2="684.7" y2="553.3"/>
<line x1="701.9" y1="548.7" x2="701.9" y2="551.3"/>
<line x1="719.1" y1="548.7" x2="719.1" y2="553.3"/>
<line x1="736.3" y1="548.7" x2="736.3" y2="551.3"/>
<line x1="753.5" y1="548.7" x2="753.5" y2="553.3"/>
<line x1="770.7" y1="548.7" x2="770.7" y2="551.3"/>
<line x1="787.9" y1="548.7" x2="787.9" y2="553.3"/>
<line x1="805.1" y1="548.7" x2="805.1" y2="551.3"/>
<line x1="822.3" y1="548.7" x2="822.3" y2="553.3"/>
</g>
<text transform="translate(546.9,566.3) scale(0.977,1)" font-size="13" text-anchor="middle">0.092</text>
<text transform="translate(581.3,566.3) scale(0.977,1)" font-size="13" text-anchor="middle">0.094</text>
<text transform="translate(615.7,566.3) scale(0.977,1)" font-size="13" text-anchor="middle">0.096</text>
<text transform="translate(650.1,566.3) scale(0.977,1)" font-size="13" text-anchor="middle">0.098</text>
<text transform="translate(684.5,566.3) scale(0.977,1)" font-size="13" text-anchor="middle">0.100</text>
<text transform="translate(718.9,566.3) scale(0.977,1)" font-size="13" text-anchor="middle">0.102</text>
<text transform="translate(753.3,566.3) scale(0.977,1)" font-size="13" text-anchor="middle">0.104</text>
<text transform="translate(787.7,566.3) scale(0.977,1)" font-size="13" text-anchor="middle">0.106</text>
<text transform="translate(822.1,566.3) scale(0.977,1)" font-size="13" text-anchor="middle">0.108</text>
<text transform="translate(533.3,340.0) scale(0.957,1)" font-size="20" text-anchor="start">0.157</text>
<text transform="translate(776.4,537.9) scale(0.957,1)" font-size="20" text-anchor="start">0.105</text>
</svg></body></html>
